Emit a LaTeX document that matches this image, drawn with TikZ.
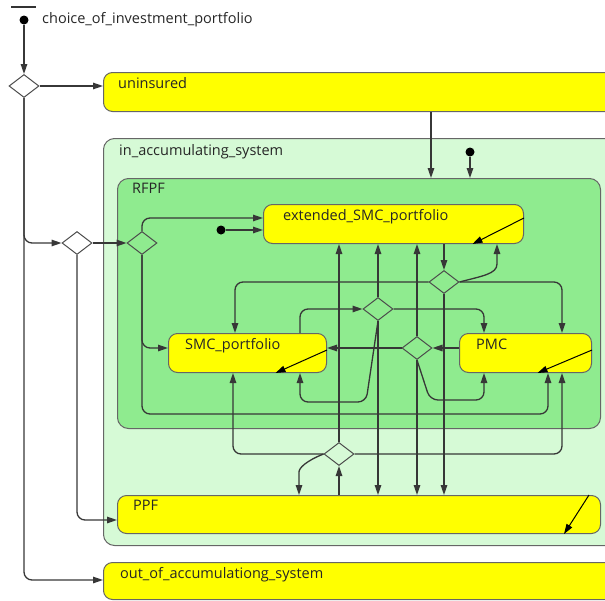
\documentclass[tikz,border=0pt]{standalone}
\usepackage{fontspec}
\setmainfont{Open Sans}
\usetikzlibrary{shapes.geometric,arrows.meta,positioning}
\definecolor{outergreen}{RGB}{214,250,214}
\definecolor{innergreen}{RGB}{143,235,143}
\definecolor{stateyellow}{RGB}{255,255,0}
\definecolor{edgegray}{RGB}{55,55,55}

\begin{document}
\begin{tikzpicture}[x=1pt,y=-1pt,font=\fontsize{14.5}{17}\selectfont]
    \tikzstyle{state}=[draw=black!60,line width=1pt,fill=stateyellow,rounded corners=9pt,inner sep=0pt,anchor=north west]
    \tikzstyle{region}=[state,rounded corners=11pt]
    \tikzstyle{choice}=[diamond,draw=black!70,line width=1pt,inner sep=0pt,minimum width=30pt,minimum height=23pt]
    \tikzstyle{start}=[circle,fill=black,inner sep=0pt,minimum size=9pt]
    \tikzstyle{lbl}=[anchor=base west,inner sep=0pt,text=black!85]
    \tikzstyle{trans}=[draw=edgegray,line width=1.3pt,rounded corners=8pt,-{Triangle[length=10pt,width=6.5pt]}]
    \tikzstyle{deep}=[draw=black,line width=1pt,-{Triangle[length=10pt,width=6.5pt]}]

    \useasboundingbox (0,0) rectangle (605,600);
    \clip (0,0) rectangle (605,600);

    % regions and states
    \node[state,minimum width=530pt,minimum height=39pt] (unins) at (103,72) {};
    \node[region,fill=outergreen,minimum width=530pt,minimum height=407pt] (inacc) at (103,138) {};
    \node[region,fill=innergreen,minimum width=483pt,minimum height=250pt] (rfpf) at (117,178) {};
    \node[state,minimum width=260pt,minimum height=39pt] (ext) at (263,204) {};
    \node[state,minimum width=158pt,minimum height=39pt] (smc) at (168,333) {};
    \node[state,minimum width=132pt,minimum height=39pt] (pmc) at (459,333) {};
    \node[state,minimum width=483pt,minimum height=38pt] (ppf) at (117,495) {};
    \node[state,minimum width=530pt,minimum height=37pt] (out) at (103,562) {};

    \node[lbl] (unins-l) at ([xshift=15pt,yshift=-16pt]unins.north west) {uninsured};
    \node[lbl] (inacc-l) at ([xshift=16pt,yshift=-17pt]inacc.north west) {in\_accumulating\_system};
    \node[lbl] (rfpf-l) at ([xshift=15pt,yshift=-15pt]rfpf.north west) {RFPF};
    \node[lbl] (ext-l) at ([xshift=20pt,yshift=-16pt]ext.north west) {extended\_SMC\_portfolio};
    \node[lbl] (smc-l) at ([xshift=17pt,yshift=-16pt]smc.north west) {SMC\_portfolio};
    \node[lbl] (pmc-l) at ([xshift=17pt,yshift=-16pt]pmc.north west) {PMC};
    \node[lbl] (ppf-l) at ([xshift=16pt,yshift=-15pt]ppf.north west) {PPF};
    \node[lbl] (out-l) at ([xshift=17pt,yshift=-16pt]out.north west) {out\_of\_accumulationg\_system};

    % choices
    \node[choice] (cEntry) at (24,86) {};
    \node[choice] (cAccum) at (77,243) {};
    \node[choice] (cRFPF) at (142,243) {};
    \node[choice] (cExt) at (444,282) {};
    \node[choice] (cSMC) at (378,309) {};
    \node[choice] (cPMC) at (417,348) {};
    \node[choice] (cPPF) at (339,454) {};

    % initial states
    \draw[line width=2.5pt,draw=black!80] (11,7) -- (36,7);
    \node[start] (init) at (24,20) {};
    \node[lbl] (init-l) at (42,23) {choice\_of\_investment\_portfolio};
    \node[start] (accInit) at (470,152) {};
    \node[start] (rfpfInit) at (221,230) {};

    % entry
    \draw[trans] (init) -- (cEntry.north);
    \draw[trans] (cEntry.east) -- (cEntry.east -| unins.west);
    \draw[trans] (cEntry.south) |- (out.west |- 0,580);
    \draw[trans] (cEntry.south) |- (cAccum.west);
    \draw[trans] (cAccum.east) -- (cRFPF.west);
    \draw[trans] (cAccum.south) |- (ppf.west |- 0,520);
    \draw[trans] (unins.south -| 431,0) -- (rfpf.north -| 431,0);
    \draw[trans] (accInit) -- (accInit |- rfpf.north);

    % into RFPF
    \draw[trans] (cRFPF.north) |- (ext.west |- 0,218);
    \draw[trans] (rfpfInit) -- (ext.west |- rfpfInit);
    \draw[trans] (cRFPF.south) |- (smc.west |- 0,348);
    \draw[trans] (cRFPF.south) |- (548,414) -- (pmc.south -| 548,0);

    % from extended_SMC_portfolio
    \draw[trans] (ext.south -| cExt.north) -- (cExt.north);
    \draw[trans] (cExt.east) .. controls (482,276) and (497,274) .. (497,256) -- (ext.south -| 497,0);
    \draw[trans] (cExt.west) -| (smc.north -| 235,0);
    \draw[trans] (cExt.east) -| (pmc.north -| 562,0);
    \draw[trans] (cExt.south) -- (cExt.south |- ppf.north);

    % from SMC_portfolio
    \draw[trans] (smc.north -| 300,0) |- (cSMC.west);
    \draw[trans] (cSMC.north) -- (cSMC.north |- ext.south);
    \draw[trans] (cSMC.east) -| (pmc.north -| 484,0);
    \draw[trans] (cSMC.south) -- (cSMC.south |- ppf.north);
    \draw[trans] (cSMC.south) -- (366,402) -| (smc.south -| 300,0);

    % from PMC
    \draw[trans] (cPMC.east -| pmc.west) -- (cPMC.east);
    \draw[trans] (cPMC.west) -- (cPMC.west -| smc.east);
    \draw[trans] (cPMC.north) -- (cPMC.north |- ext.south);
    \draw[trans] (cPMC.south) -- (cPMC.south |- ppf.north);
    \draw[trans] (cPMC.south) -- (430,400) -| (pmc.south -| 484,0);

    % from PPF
    \draw[trans] (ppf.north -| cPPF.south) -- (cPPF.south);
    \draw[trans] (cPPF.north) -- (cPPF.north |- ext.south);
    \draw[trans] (cPPF.west) -| (smc.south -| 233,0);
    \draw[trans] (cPPF.east) -| (pmc.south -| 562,0);
    \draw[trans] (cPPF.west) .. controls (306,461) and (299,468) .. (299,480) -- (ppf.north -| 299,0);

    % decomposition marks
    \draw[deep] ([yshift=6pt]ext.east) -- ([xshift=79pt]ext.south);
    \draw[deep] ([yshift=3pt]smc.east) -- ([xshift=28pt]smc.south);
    \draw[deep] ([yshift=3pt]pmc.east) -- ([xshift=12pt]pmc.south);
    \draw[deep] ([xshift=-12pt]ppf.north east) -- ([xshift=-37pt]ppf.south east);
\end{tikzpicture}
\end{document}
